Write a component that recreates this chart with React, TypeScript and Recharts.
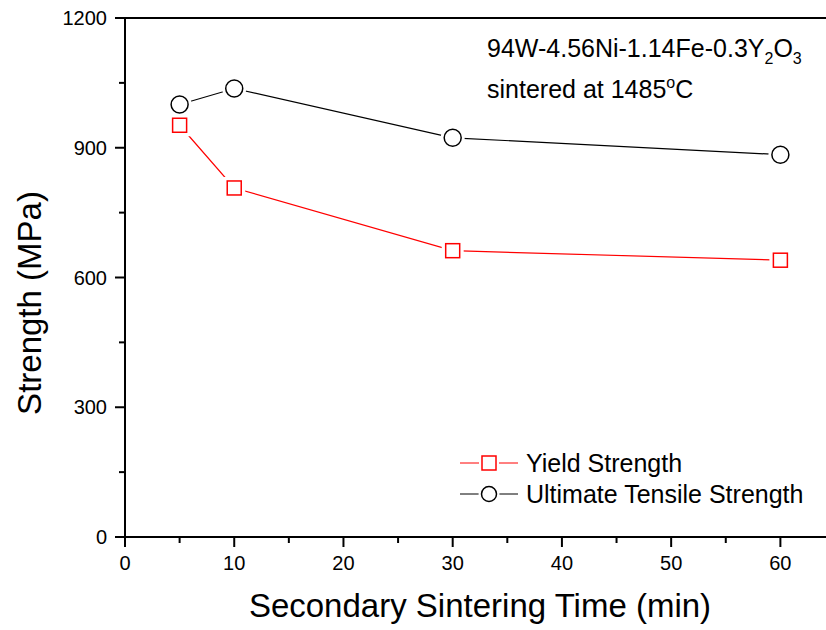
import * as React from "react"
import {
  LineChart,
  Line,
  XAxis,
  YAxis,
  ReferenceLine,
} from "recharts"

const times = [5, 10, 30, 60]
const yieldStrength = [952, 807, 662, 640]
const tensileStrength = [1000, 1037, 923, 884]

const xTicks = [0, 5, 10, 15, 20, 25, 30, 35, 40, 45, 50, 55, 60]
const yTicks = [0, 150, 300, 450, 600, 750, 900, 1050, 1200]

const FONT = "'Liberation Sans', Arial, sans-serif"

const data = times.map((t, i) => ({
  time: t,
  ys: yieldStrength[i],
  uts: tensileStrength[i],
}))

// ticks point outward, minor ticks are shorter and unlabeled
const XTick = (props: any) => {
  const { x, y, payload } = props
  const major = payload.value % 10 === 0
  return (
    <g>
      <line x1={x} y1={y} x2={x} y2={y + (major ? 10 : 6)} stroke="#000" strokeWidth={2} />
      {major && (
        <text x={x} y={y + 33} textAnchor="middle" fontSize={20} fontFamily={FONT} fill="#000">
          {payload.value}
        </text>
      )}
    </g>
  )
}

const YTick = (props: any) => {
  const { x, y, payload } = props
  const major = payload.value % 300 === 0
  return (
    <g>
      <line x1={x} y1={y} x2={x - (major ? 10 : 6)} y2={y} stroke="#000" strokeWidth={2} />
      {major && (
        <text x={x - 18} y={y + 7} textAnchor="end" fontSize={20} fontFamily={FONT} fill="#000">
          {payload.value}
        </text>
      )}
    </g>
  )
}

const SquareDot = (props: any) => {
  const { cx, cy } = props
  if (cx == null || cy == null) return null
  return (
    <g>
      <rect x={cx - 11} y={cy - 11} width={22} height={22} fill="#fff" />
      <rect x={cx - 7} y={cy - 7} width={14} height={14} fill="none" stroke="#ff0000" strokeWidth={1.5} />
    </g>
  )
}

const CircleDot = (props: any) => {
  const { cx, cy } = props
  if (cx == null || cy == null) return null
  return (
    <g>
      <circle cx={cx} cy={cy} r={12} fill="#fff" />
      <circle cx={cx} cy={cy} r={8.5} fill="none" stroke="#000" strokeWidth={1.5} />
    </g>
  )
}

const legendRows = [
  { label: "Yield Strength", color: "#ff0000", marker: "square" },
  { label: "Ultimate Tensile Strength", color: "#000", marker: "circle" },
]

const Overlay = () => (
  <svg
    width={826}
    height={630}
    style={{ position: "absolute", left: 0, top: 0, pointerEvents: "none" }}
  >
    <text x={487} y={57} fontSize={25} fontFamily={FONT} fill="#000">
      94W-4.56Ni-1.14Fe-0.3Y
      <tspan fontSize={16} dy={7}>2</tspan>
      <tspan dy={-7}>O</tspan>
      <tspan fontSize={16} dy={7}>3</tspan>
    </text>
    <text x={487} y={98} fontSize={25} fontFamily={FONT} fill="#000">
      sintered at 1485
      <tspan fontSize={16} dy={-10}>o</tspan>
      <tspan dy={10}>C</tspan>
    </text>
    {legendRows.map((r, i) => {
      const cy = 463 + i * 31
      return (
        <g key={r.label}>
          <line x1={460} y1={cy} x2={518} y2={cy} stroke={r.color} strokeWidth={1} />
          {r.marker === "square" ? (
            <g>
              <rect x={479} y={cy - 10} width={20} height={20} fill="#fff" />
              <rect x={482} y={cy - 7} width={14} height={14} fill="none" stroke={r.color} strokeWidth={1.5} />
            </g>
          ) : (
            <g>
              <circle cx={489} cy={cy} r={10.5} fill="#fff" />
              <circle cx={489} cy={cy} r={7.5} fill="none" stroke={r.color} strokeWidth={1.5} />
            </g>
          )}
          <text x={526} y={cy + 9} fontSize={25} fontFamily={FONT} fill="#000">
            {r.label}
          </text>
        </g>
      )
    })}
  </svg>
)

export default function App() {
  return (
    <div
      style={{
        position: "absolute",
        left: 0,
        top: 0,
        width: 826,
        height: 630,
        overflow: "hidden",
        background: "#fff",
      }}
    >
      <LineChart
        width={850}
        height={630}
        data={data}
        margin={{ top: 18, right: 15, left: 0, bottom: 0 }}
      >
        <XAxis
          dataKey="time"
          type="number"
          domain={[0, 65]}
          ticks={xTicks}
          height={93}
          tickSize={0}
          tickMargin={0}
          tickLine={false}
          tick={<XTick />}
          axisLine={{ stroke: "#000", strokeWidth: 2 }}
          interval={0}
          label={{
            content: () => (
              <text x={480} y={617} textAnchor="middle" fontSize={33} fontFamily={FONT} fill="#000">
                Secondary Sintering Time (min)
              </text>
            ),
          }}
        />
        <YAxis
          type="number"
          domain={[0, 1200]}
          ticks={yTicks}
          width={125}
          tickSize={0}
          tickMargin={0}
          tickLine={false}
          tick={<YTick />}
          axisLine={{ stroke: "#000", strokeWidth: 2 }}
          interval={0}
          label={{
            content: () => (
              <text
                x={41}
                y={303}
                transform="rotate(-90 41 303)"
                textAnchor="middle"
                fontSize={33}
                fontFamily={FONT}
                fill="#000"
              >
                Strength (MPa)
              </text>
            ),
          }}
        />
        <ReferenceLine y={1200} stroke="#000" strokeWidth={2} />
        <Line
          type="linear"
          dataKey="ys"
          name="Yield Strength"
          stroke="#ff0000"
          strokeWidth={1.2}
          dot={<SquareDot />}
          activeDot={false}
          isAnimationActive={false}
        />
        <Line
          type="linear"
          dataKey="uts"
          name="Ultimate Tensile Strength"
          stroke="#000"
          strokeWidth={1.2}
          dot={<CircleDot />}
          activeDot={false}
          isAnimationActive={false}
        />
      </LineChart>
      <Overlay />
    </div>
  )
}
